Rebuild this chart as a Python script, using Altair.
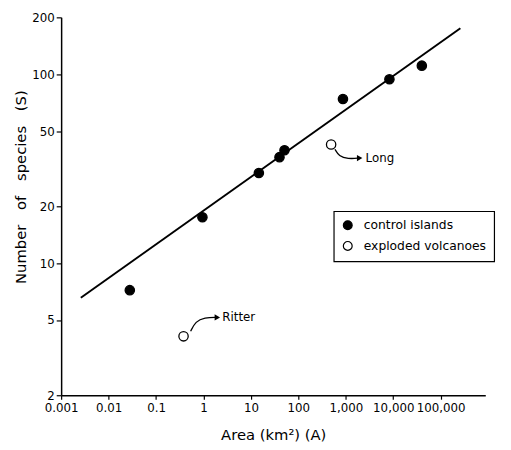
import altair as alt
import pandas as pd

# ---- data ----
control_area = [0.028, 0.95, 14.7, 40, 51, 870, 8300, 40000]
control_species = [7.2, 17.5, 30, 36.4, 39.6, 74, 94, 111]
volcano_names = ["Ritter", "Long"]
volcano_area = [0.38, 490]
volcano_species = [4.1, 42.5]
fit_area = [0.0026, 260000]
fit_species = [6.56, 175]
x_ticks = [0.001, 0.01, 0.1, 1, 10, 100, 1000, 10000, 100000]
y_ticks = [2, 5, 10, 20, 50, 100, 200]
categories = ["control islands", "exploded volcanoes"]

# annotation arrows (data coordinates)
ritter_arrow_x = [0.536, 0.681, 1.05, 1.96]
ritter_arrow_y = [4.36, 4.92, 5.16, 5.16]
long_arrow_x = [590, 714, 1101, 1958]
long_arrow_y = [40.1, 36.9, 35.6, 36.0]
label_x = [2.49, 2610]
label_y = [5.16, 36.0]

FONT = "DejaVu Sans"

pts = pd.DataFrame({
    "area": control_area + volcano_area,
    "species": control_species + volcano_species,
    "type": [categories[0]] * len(control_area) + [categories[1]] * len(volcano_area),
})
fit = pd.DataFrame({"area": fit_area, "species": fit_species})
arrows = pd.DataFrame({
    "area": ritter_arrow_x + long_arrow_x,
    "species": ritter_arrow_y + long_arrow_y,
    "name": ["Ritter"] * 4 + ["Long"] * 4,
    "order": list(range(4)) * 2,
})
heads = pd.DataFrame({"area": [ritter_arrow_x[-1], long_arrow_x[-1]],
                      "species": [ritter_arrow_y[-1], long_arrow_y[-1]]})
labels = pd.DataFrame({"area": label_x, "species": label_y, "name": volcano_names})

xscale = alt.Scale(type="log", domain=[0.001, 870000], nice=False)
yscale = alt.Scale(type="log", domain=[2, 200], nice=False)

common_axis = dict(grid=False, domainColor="black", domainWidth=1.5, tickColor="black",
                   tickWidth=1.2, labelFont=FONT, labelFontSize=12, labelColor="black",
                   titleFont=FONT, titleColor="black", titleFontWeight="normal",
                   titleFontSize=15, labelFlush=False)

xenc = alt.X("area:Q", scale=xscale, axis=alt.Axis(
    title="Area (km²) (A)", values=x_ticks, format=",", tickSize=4,
    labelPadding=4, titleY=40, titleBaseline="middle", labelOverlap=False, **common_axis))
yenc = alt.Y("species:Q", scale=yscale, axis=alt.Axis(
    title="Number\u2003of\u2003species\u2003(S)", values=y_ticks, format="d", tickSize=5,
    labelPadding=2, titleX=-41, titleY=172, titleAngle=270,
    titleAlign="center", titleBaseline="middle", **common_axis))

line = alt.Chart(fit).mark_line(color="black", strokeWidth=2).encode(x=xenc, y=yenc)

points = alt.Chart(pts).mark_point(filled=False, size=90, strokeWidth=1.3, opacity=1, shape="circle").encode(
    x=xenc, y=yenc,
    fill=alt.Fill("type:N", scale=alt.Scale(domain=categories, range=["black", "white"]),
                  legend=alt.Legend(title=None, orient="none", legendX=277, legendY=197,
                                    strokeColor="black", padding=8,
                                    labelFontSize=12.5, labelFont=FONT, labelOffset=10,
                                    rowPadding=6, symbolSize=80, symbolStrokeColor="black",
                                    symbolStrokeWidth=1.2, symbolType="circle",
                                    fillColor="white", labelColor="black")),
    stroke=alt.value("black"),
)

arrow_lines = alt.Chart(arrows).mark_line(color="black", strokeWidth=1.3, interpolate="basis").encode(
    x="area:Q", y="species:Q", detail="name:N", order="order:Q")
arrow_heads = alt.Chart(heads).mark_point(shape="triangle-right", filled=True, color="black",
                                          size=40, opacity=1).encode(x="area:Q", y="species:Q")
texts = alt.Chart(labels).mark_text(align="left", baseline="middle", fontSize=12, font=FONT,
                                    color="black").encode(x="area:Q", y="species:Q", text="name:N")

chart = alt.layer(line, points, arrow_lines, arrow_heads, texts).properties(
    width=431, height=384,
    background="white",
    autosize=alt.AutoSizeParams(type="none"),
    padding={"left": 54, "top": 6, "right": 18, "bottom": 44},
).configure_view(stroke=None).configure_legend(strokeWidth=1.2)

chart.save("out.html", embed_options={"renderer": "svg", "actions": False})
